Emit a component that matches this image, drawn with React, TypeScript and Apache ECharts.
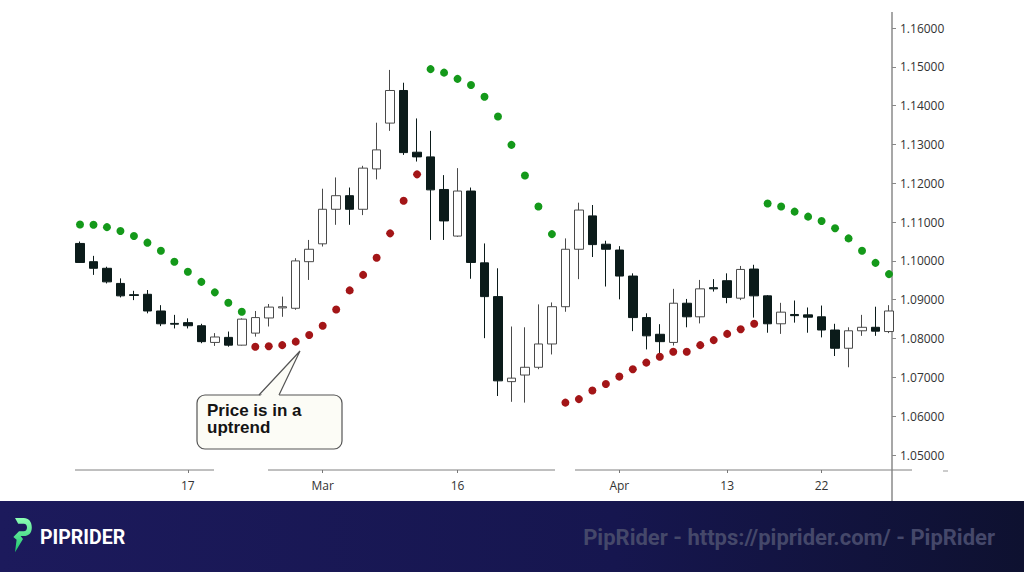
import React, { useEffect, useRef } from 'react';
import * as echarts from 'echarts';

const dates = [
  '2020-02-05','2020-02-06','2020-02-07','2020-02-10','2020-02-11','2020-02-12','2020-02-13','2020-02-14',
  '2020-02-17','2020-02-18','2020-02-19','2020-02-20','2020-02-21','2020-02-24','2020-02-25','2020-02-26',
  '2020-02-27','2020-02-28',
  '2020-03-02','2020-03-03','2020-03-04','2020-03-05','2020-03-06','2020-03-09','2020-03-10','2020-03-11',
  '2020-03-12','2020-03-13','2020-03-16','2020-03-17','2020-03-18','2020-03-19','2020-03-20','2020-03-23',
  '2020-03-24','2020-03-25','2020-03-26','2020-03-27','2020-03-30','2020-03-31',
  '2020-04-01','2020-04-02','2020-04-03','2020-04-06','2020-04-07','2020-04-08','2020-04-09','2020-04-10',
  '2020-04-13','2020-04-14','2020-04-15','2020-04-16','2020-04-17','2020-04-20','2020-04-21','2020-04-22',
  '2020-04-23','2020-04-24','2020-04-27','2020-04-28','2020-04-29',
];

const opens = [
  1.1045,1.0998,1.0981,1.0942,1.0913,1.0914,1.0871,1.0839,1.0841,1.0833,
  1.0790,1.0803,1.0783,1.0814,1.0853,1.0879,1.0878,1.0998,1.1044,1.1133,
  1.1168,1.1133,1.1237,1.1355,1.1439,1.1280,1.1268,1.1184,1.1064,1.1180,
  1.0995,1.0908,1.0689,1.0706,1.0726,1.0786,1.0882,1.1030,1.1116,1.1043,
  1.1028,1.0961,1.0854,1.0811,1.0790,1.0891,1.0856,1.0931,1.0949,1.0904,
  1.0979,1.0910,1.0838,1.0862,1.0861,1.0856,1.0822,1.0775,1.0820,1.0829,
  1.0818,
];
const closes = [
  1.0996,1.0981,1.0946,1.0910,1.0911,1.0871,1.0838,1.0837,1.0833,1.0792,
  1.0804,1.0783,1.0850,1.0854,1.0881,1.0882,1.1000,1.1030,1.1133,1.1168,
  1.1133,1.1239,1.1286,1.1439,1.1279,1.1268,1.1183,1.1103,1.1180,1.0996,
  1.0908,1.0691,1.0698,1.0726,1.0786,1.0882,1.1030,1.1131,1.1042,1.1030,
  1.0961,1.0854,1.0807,1.0792,1.0891,1.0856,1.0928,1.0928,1.0906,1.0978,
  1.0910,1.0838,1.0868,1.0859,1.0855,1.0822,1.0775,1.0820,1.0829,1.0819,
  1.0871,
];
const lows = [
  1.0995,1.0964,1.0942,1.0906,1.0899,1.0865,1.0832,1.0826,1.0826,1.0788,
  1.0781,1.0779,1.0782,1.0805,1.0831,1.0856,1.0874,1.0951,1.1037,1.1093,
  1.1093,1.1118,1.1210,1.1335,1.1273,1.1256,1.1054,1.1054,1.1062,1.0954,
  1.0801,1.0652,1.0637,1.0635,1.0721,1.0759,1.0869,1.0953,1.1010,1.0934,
  1.0901,1.0819,1.0772,1.0762,1.0782,1.0829,1.0839,1.0921,1.0891,1.0899,
  1.0854,1.0815,1.0812,1.0841,1.0815,1.0803,1.0755,1.0726,1.0807,1.0807,
  1.0814,
];
const highs = [
  1.1050,1.1013,1.0985,1.0955,1.0923,1.0925,1.0886,1.0861,1.0852,1.0838,
  1.0814,1.0818,1.0852,1.0871,1.0889,1.0908,1.1007,1.1054,1.1186,1.1215,
  1.1189,1.1245,1.1356,1.1492,1.1459,1.1367,1.1335,1.1221,1.1239,1.1189,
  1.1045,1.0981,1.0831,1.0829,1.0888,1.0893,1.1058,1.1150,1.1144,1.1052,
  1.1038,1.0968,1.0865,1.0837,1.0928,1.0902,1.0951,1.0953,1.0968,1.0987,
  1.0990,1.0912,1.0892,1.0898,1.0880,1.0885,1.0838,1.0829,1.0861,1.0882,
  1.0886,
];

// Parabolic SAR above price (downtrend, green)
const sarAbove = [
  1.1094,1.1093,1.1087,1.1077,1.1064,1.1047,1.1026,1.0998,1.0972,1.0946,1.0919,1.0892,1.0869,
  null,null,null,null,null,null,null,null,null,null,null,null,null,
  1.1494,1.1485,1.1469,1.1453,1.1423,1.1372,1.1299,1.1220,1.1140,1.1069,
  null,null,null,null,null,null,null,null,null,null,null,null,null,null,null,
  1.1148,1.1140,1.1127,1.1114,1.1103,1.1084,1.1058,1.1026,1.0995,1.0966,
];
// Parabolic SAR below price (uptrend, red)
const sarBelow = [
  null,null,null,null,null,null,null,null,null,null,null,null,null,
  1.0779,1.0780,1.0783,1.0792,1.0809,1.0833,1.0875,1.0924,1.0964,1.1008,1.1071,1.1155,1.1223,
  null,null,null,null,null,null,null,null,null,null,
  1.0635,1.0644,1.0666,1.0683,1.0702,1.0721,1.0738,1.0753,1.0766,1.0766,1.0783,1.0796,1.0812,1.0824,1.0838,
  null,null,null,null,null,null,null,null,null,null,
];

const tickDates = ['2020-02-17', '2020-03-02', '2020-03-16', '2020-04-01', '2020-04-13', '2020-04-22'];
const tickTexts = ['17', 'Mar', '16', 'Apr', '13', '22'];

const yMin = 1.05;
const yMax = 1.16;
const yStep = 0.01;

const calloutLines = ['Price is in a', 'uptrend'];
const brandName = 'PIPRIDER';
const watermark = 'PipRider - https://piprider.com/ - PipRider';

const LOGO_D =
  'M5 0 H16 C22 0 26 4 26 10 C26 16 22 19 16 19 H12 L15 22 L5 36 L7 23 L3 20 L10 14 H16 C18.5 14 20 12.5 20 10 C20 7.5 18.5 6 16 6 H9 Z';

let logoRegistered = false;
function ensureLogo() {
  if (logoRegistered) return;
  echarts.graphic.registerShape('pipLogo', echarts.graphic.extendPath(LOGO_D, {}) as any);
  logoRegistered = true;
}

export default function App() {
  const ref = useRef<HTMLDivElement>(null);

  useEffect(() => {
    if (!ref.current) return;
    ensureLogo();
    const chart = echarts.init(ref.current, null, { renderer: 'svg' });

    const candleData = dates.map((_, i) => [opens[i], closes[i], lows[i], highs[i]]);
    const isTick = (_i: number, v: string) => tickDates.indexOf(v) >= 0;

    const option: any = {
      animation: false,
      backgroundColor: '#ffffff',
      grid: { left: 80, top: 28, width: 809, height: 427 },
      xAxis: {
        type: 'category',
        data: dates,
        boundaryGap: false,
        offset: 15,
        axisLine: { show: false },
        axisTick: {
          show: true,
          interval: isTick,
          length: 3,
          lineStyle: { color: '#777', width: 1 },
        },
        axisLabel: {
          interval: isTick,
          formatter: (v: string) => {
            const k = tickDates.indexOf(v);
            return k >= 0 ? tickTexts[k] : '';
          },
          color: '#333',
          fontFamily: 'Open Sans',
          fontSize: 12,
          margin: 9,
        },
        splitLine: { show: false },
      },
      yAxis: {
        type: 'value',
        position: 'right',
        offset: 3,
        min: yMin,
        max: yMax,
        interval: yStep,
        axisLine: { show: false },
        axisTick: { show: true, length: 4, lineStyle: { color: '#888', width: 1 } },
        axisLabel: {
          formatter: (v: number) => v.toFixed(5),
          color: '#333',
          fontFamily: 'Open Sans',
          fontSize: 12,
          margin: 8,
        },
        splitLine: { show: false },
      },
      series: [
        {
          type: 'candlestick',
          data: candleData,
          barWidth: 9,
          clip: false,
          itemStyle: {
            color: '#ffffff',
            color0: '#0b1b1a',
            borderColor: '#4a4a4a',
            borderColor0: '#0b1b1a',
            borderWidth: 1,
          },
        },
        {
          type: 'scatter',
          data: sarAbove,
          symbol: 'circle',
          symbolSize: 8,
          itemStyle: { color: '#14991a', opacity: 1 },
          z: 3,
        },
        {
          type: 'scatter',
          data: sarBelow,
          symbol: 'circle',
          symbolSize: 8,
          itemStyle: { color: '#a31517', opacity: 1 },
          z: 3,
        },
      ],
      graphic: [
        // y axis line
        { type: 'line', shape: { x1: 892, y1: 12, x2: 892, y2: 501 }, style: { stroke: '#8a8a8a', lineWidth: 1.5 } },
        // x axis line segments
        { type: 'line', shape: { x1: 75, y1: 470, x2: 214, y2: 470 }, style: { stroke: '#808080', lineWidth: 1 } },
        { type: 'line', shape: { x1: 268, y1: 470, x2: 555, y2: 470 }, style: { stroke: '#808080', lineWidth: 1 } },
        { type: 'line', shape: { x1: 575, y1: 470, x2: 912, y2: 470 }, style: { stroke: '#808080', lineWidth: 1 } },
        { type: 'line', shape: { x1: 943, y1: 471, x2: 948, y2: 471 }, style: { stroke: '#999', lineWidth: 1 } },
        // callout
        {
          type: 'rect',
          shape: { x: 197, y: 395, width: 145, height: 54, r: 8 },
          style: { fill: '#fcfcf6', stroke: '#555', lineWidth: 1.2 },
          z: 10,
        },
        {
          type: 'polygon',
          shape: { points: [[259.5, 397], [300, 351], [278.5, 397]] },
          style: { fill: '#fcfcf6' },
          z: 11,
        },
        {
          type: 'polyline',
          shape: { points: [[259, 395], [300, 351], [279, 395]] },
          style: { stroke: '#555', lineWidth: 1.2, fill: null },
          z: 11,
        },
        {
          type: 'text',
          x: 207,
          y: 402,
          z: 12,
          style: {
            text: calloutLines.join('\n'),
            font: 'bold 17px "Liberation Sans", Arial, sans-serif',
            fill: '#141414',
            lineHeight: 17,
          },
        },
        // banner
        {
          type: 'rect',
          shape: { x: 0, y: 501, width: 1024, height: 71 },
          style: {
            fill: new echarts.graphic.LinearGradient(0, 0, 1, 0, [
              { offset: 0, color: '#1c1a5c' },
              { offset: 0.6, color: '#16164f' },
              { offset: 1, color: '#0e1130' },
            ]),
          },
          z: 20,
        },
        {
          type: 'pipLogo',
          x: 11,
          y: 518,
          scaleX: 0.8,
          scaleY: 0.95,
          style: {
            fill: new echarts.graphic.LinearGradient(0, 0, 0, 1, [
              { offset: 0, color: '#8dffb4' },
              { offset: 1, color: '#1bc46c' },
            ]),
          },
          z: 21,
        },
        {
          type: 'text',
          x: 40,
          y: 537,
          z: 21,
          style: {
            text: brandName,
            font: 'bold 19.5px Roboto, "Liberation Sans", sans-serif',
            fill: '#ffffff',
            verticalAlign: 'middle',
            align: 'left',
          },
        },
        {
          type: 'text',
          x: 995,
          y: 537,
          z: 21,
          style: {
            text: watermark,
            font: 'bold 22px Roboto, "Liberation Sans", sans-serif',
            fill: '#45486a',
            verticalAlign: 'middle',
            align: 'right',
          },
        },
      ],
    };

    chart.setOption(option);
    return () => chart.dispose();
  }, []);

  return (
    <div
      ref={ref}
      style={{ position: 'absolute', left: 0, top: 0, width: 1024, height: 572, background: '#fff' }}
    />
  );
}
